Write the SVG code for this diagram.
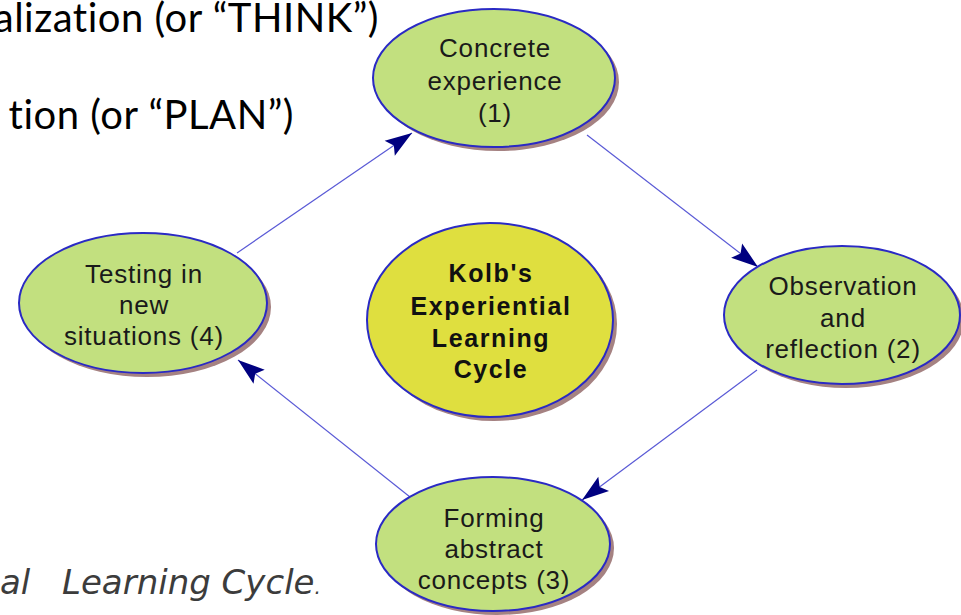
<svg xmlns="http://www.w3.org/2000/svg" width="961" height="615" viewBox="0 0 961 615">
<style>
.shadow{fill:#a58282;}
.node{fill:#c2e07f;stroke:#2a2ac4;stroke-width:2;}
.hub{fill:#dfdf3f;stroke:#2a2ac4;stroke-width:2;}
.lbl{font-family:"Liberation Sans",Arial,sans-serif;font-size:26px;fill:#1a1a1a;text-anchor:middle;letter-spacing:0.8px;}
.hubl{font-family:"Liberation Sans",Arial,sans-serif;font-size:25px;font-weight:bold;fill:#111;text-anchor:middle;letter-spacing:1.6px;}
.slide{font-family:Lato,"Open Sans",sans-serif;font-size:40px;fill:#000;text-anchor:end;letter-spacing:0.5px;}
.cap{font-family:"DejaVu Sans",Verdana,sans-serif;font-style:italic;font-size:34px;fill:#3c3c3c;}
.conn{stroke:#5a5ad6;stroke-width:1.2;fill:none;marker-end:url(#arr);}
</style>
<defs>
<marker id="arr" markerUnits="userSpaceOnUse" viewBox="-28 -10 30 20" refX="0" refY="0" markerWidth="30" markerHeight="20" orient="auto">
<path d="M0,0 L-27,-9 L-22,0 L-27,9 Z" fill="#000080"/>
</marker>
</defs>
<rect x="0" y="0" width="961" height="615" fill="#fff"/>

<g id="slide-text">
<text class="slide" x="379" y="32">alization (or “THINK”)</text>
<text class="slide" x="294" y="129">tion (or “PLAN”)</text>
<text class="cap" y="594"><tspan x="0">al </tspan><tspan x="62">Learning Cycle</tspan><tspan font-size="20">.</tspan></text>
</g>

<g id="connectors">
<line class="conn" x1="237" y1="253" x2="412" y2="133"/>
<line class="conn" x1="587" y1="135" x2="758" y2="267"/>
<line class="conn" x1="757" y1="370" x2="582" y2="500"/>
<line class="conn" x1="410" y1="497" x2="238" y2="360"/>
</g>

<g id="concrete-experience">
<ellipse class="shadow" cx="498" cy="82" rx="121" ry="69"/>
<ellipse class="node" cx="494" cy="78" rx="121" ry="69"/>
<text class="lbl"><tspan x="495" y="57">Concrete</tspan><tspan x="495" y="90">experience</tspan><tspan x="495" y="122">(1)</tspan></text>
</g>

<g id="observation-reflection">
<ellipse class="shadow" cx="846" cy="319" rx="118" ry="69"/>
<ellipse class="node" cx="842" cy="315" rx="118" ry="69"/>
<text class="lbl"><tspan x="843" y="295">Observation</tspan><tspan x="843" y="327">and</tspan><tspan x="843" y="358">reflection (2)</tspan></text>
</g>

<g id="forming-abstract-concepts">
<ellipse class="shadow" cx="497" cy="548" rx="117" ry="67"/>
<ellipse class="node" cx="493" cy="544" rx="117" ry="67"/>
<text class="lbl"><tspan x="494" y="527">Forming</tspan><tspan x="494" y="558">abstract</tspan><tspan x="494" y="589">concepts (3)</tspan></text>
</g>

<g id="testing-new-situations">
<ellipse class="shadow" cx="147" cy="307" rx="124" ry="70"/>
<ellipse class="node" cx="143" cy="303" rx="124" ry="70"/>
<text class="lbl"><tspan x="144" y="283">Testing in</tspan><tspan x="144" y="314">new</tspan><tspan x="144" y="345">situations (4)</tspan></text>
</g>

<g id="kolb-cycle">
<ellipse class="shadow" cx="494" cy="324" rx="123" ry="97"/>
<ellipse class="hub" cx="490" cy="320" rx="123" ry="97"/>
<text class="hubl"><tspan x="491" y="282">Kolb's</tspan><tspan x="491" y="315">Experiential</tspan><tspan x="491" y="347">Learning</tspan><tspan x="491" y="378">Cycle</tspan></text>
</g>
</svg>
